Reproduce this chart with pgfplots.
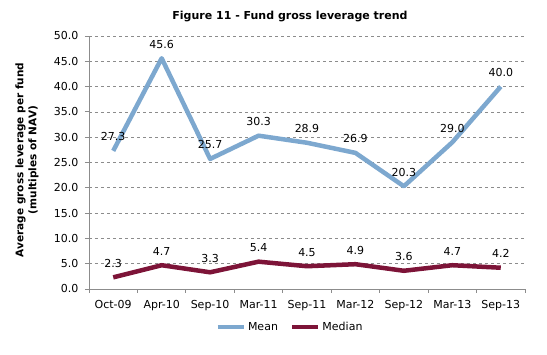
\documentclass[border=0pt]{standalone}
\usepackage{pgfplots}
\pgfplotsset{compat=1.18}
\usepackage{fontspec}
\setmainfont{DejaVu Sans}
\definecolor{meanc}{RGB}{125,168,207}
\definecolor{medc}{RGB}{125,20,56}
\definecolor{axc}{RGB}{140,140,140}
\pgfplotstableread{
x mean median
0 27.3 2.3
1 45.6 4.7
2 25.7 3.3
3 30.3 5.4
4 28.9 4.5
5 26.9 4.9
6 20.3 3.6
7 29.0 4.7
8 40.0 4.2
}\datatable
\begin{document}
\begin{tikzpicture}
\begin{axis}[
  at={(89pt,66pt)}, anchor=south west,
  scale only axis, width=436pt, height=253pt,
  xmin=-0.5, xmax=8.5, ymin=0, ymax=50,
  axis x line*=bottom, axis y line*=left,
  axis line style={axc, line width=0.8pt},
  xtick={0,...,8},
  xticklabels={Oct-09,Apr-10,Sep-10,Mar-11,Sep-11,Mar-12,Sep-12,Mar-13,Sep-13},
  major x tick style={draw=none},
  minor xtick={-0.5,0.5,...,8.5},
  minor tick length=4pt,
  minor x tick style={axc, line width=0.8pt},
  ytick={0,5,...,50},
  major tick length=4pt,
  tick align=outside,
  y tick style={axc, line width=0.8pt},
  ymajorgrids,
  major grid style={dashed, axc, line width=0.6pt},
  y tick label style={/pgf/number format/fixed, /pgf/number format/fixed zerofill, /pgf/number format/precision=1},
  /pgf/number format/assume math mode=true,
  tick label style={font=\fontsize{11}{13}\selectfont, text=black},
  xticklabel style={yshift=-4pt},
  yticklabel style={xshift=-3pt},
  ylabel={Average gross leverage per fund\\(multiples of NAV)},
  ylabel style={align=center, font=\fontsize{10.5}{13}\selectfont\bfseries, at={(rel axis cs:-0.142,0.51)}, anchor=center},
  title={Figure 11 - Fund gross leverage trend},
  title style={font=\fontsize{11}{13}\selectfont\bfseries, at={(0.461,1.083)}, anchor=center, yshift=-8pt},
  legend style={draw=none, at={(0.461,-0.15)}, anchor=center, legend columns=2,
    font=\fontsize{11}{13}\selectfont, /tikz/every even column/.append style={column sep=10pt},
    inner sep=0pt},
  legend image code/.code={\draw[#1, line width=4.5pt] (0pt,0pt) -- (26pt,0pt);},
  nodes near coords, point meta=explicit symbolic,
  every node near coord/.append style={font=\fontsize{11}{13}\selectfont, text=black, anchor=center, yshift=14pt},
  clip=false,
]
\addplot[meanc, line width=4.5pt, line join=round] table[x=x, y=mean, meta=mean] {\datatable};
\addlegendentry{Mean}
\addplot[medc, line width=4.5pt, line join=round] table[x=x, y=median, meta=median] {\datatable};
\addlegendentry{Median}
\end{axis}
\pgfresetboundingbox
\path[use as bounding box] (0,0) rectangle (547pt,355pt);
\end{tikzpicture}
\end{document}
